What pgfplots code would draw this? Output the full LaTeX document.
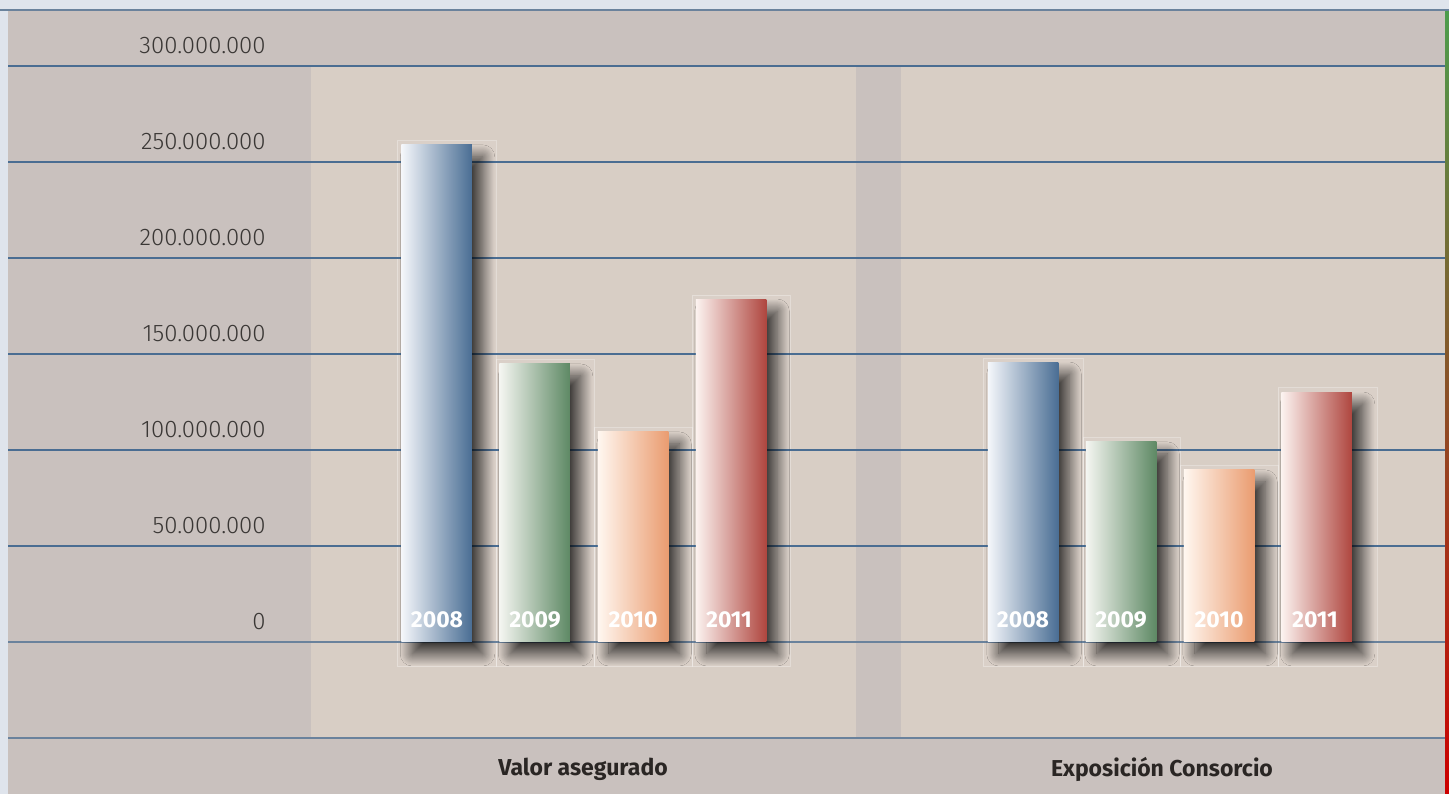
\documentclass[border=0pt]{standalone}
\usepackage{pgfplots}
\pgfplotsset{compat=1.18}
\usetikzlibrary{shadows.blur}
\usepackage{fontspec}
\setmainfont{Fira Sans}
\newfontfamily\lightfont{Fira Sans Light}
\definecolor{outerbg}{HTML}{C9C1BE}
\definecolor{panelbg}{HTML}{D8CEC5}
\definecolor{stripbg}{HTML}{DFE4EC}
\definecolor{gridc}{HTML}{4A6D92}
\definecolor{gridl}{HTML}{6A829C}
\definecolor{blueD}{HTML}{4A6E94}
\definecolor{blueL}{HTML}{F5F7FB}
\definecolor{greenD}{HTML}{5E8964}
\definecolor{greenL}{HTML}{F5F6F2}
\definecolor{orangeD}{HTML}{EA9C70}
\definecolor{orangeL}{HTML}{FFF7F0}
\definecolor{redD}{HTML}{AF463F}
\definecolor{redL}{HTML}{FCF3F0}
\definecolor{labc}{HTML}{3A3735}
\definecolor{catc}{HTML}{2A2624}
\tikzset{barshadow/.style={blur shadow={shadow xshift=5.5pt, shadow yshift=-6pt, shadow blur radius=6pt, shadow blur steps=24, shadow opacity=75}}}
\pgfplotsset{
  b08/.style={bar shift=0pt, draw=none, left color=blueL, right color=blueD, barshadow},
  b09/.style={bar shift=0pt, draw=none, left color=greenL, right color=greenD, barshadow},
  b10/.style={bar shift=0pt, draw=none, left color=orangeL, right color=orangeD, barshadow},
  b11/.style={bar shift=0pt, draw=none, left color=redL, right color=redD, barshadow},
}
\begin{document}
\begin{tikzpicture}
\begin{axis}[
  scale only axis, width=724.5pt, height=397pt,
  xmin=0, xmax=1449, ymin=-79.1667, ymax=334.375,
  hide axis, clip=true,
  ybar, bar width=70.5,
]
% backgrounds
\fill[stripbg] (axis cs:0,-79.1667) rectangle (axis cs:1449,334.375);
\fill[outerbg] (axis cs:8,-79.1667) rectangle (axis cs:1445,329.17);
\fill[panelbg] (axis cs:311,-50) rectangle (axis cs:856,300);
\fill[panelbg] (axis cs:901,-50) rectangle (axis cs:1445,300);
\shade[top color=green!45!black!70!white, bottom color=red!80!black] (axis cs:1445,-79.1667) rectangle (axis cs:1449,329.17);
\draw[gridl, line width=0.8pt] (axis cs:0,329.17) -- (axis cs:1449,329.17);
% faint frames around bars
\draw[white, opacity=0.3, line width=0.5pt, fill=white, fill opacity=0.06] (axis cs:397,-13) rectangle (axis cs:496,261.0);
\draw[white, opacity=0.3, line width=0.5pt, fill=white, fill opacity=0.06] (axis cs:496,-13) rectangle (axis cs:594,146.9);
\draw[white, opacity=0.3, line width=0.5pt, fill=white, fill opacity=0.06] (axis cs:594,-13) rectangle (axis cs:692,111.5);
\draw[white, opacity=0.3, line width=0.5pt, fill=white, fill opacity=0.06] (axis cs:692,-13) rectangle (axis cs:790,180.7);
\draw[white, opacity=0.3, line width=0.5pt, fill=white, fill opacity=0.06] (axis cs:983,-13) rectangle (axis cs:1083,147.9);
\draw[white, opacity=0.3, line width=0.5pt, fill=white, fill opacity=0.06] (axis cs:1083,-13) rectangle (axis cs:1180,106.3);
\draw[white, opacity=0.3, line width=0.5pt, fill=white, fill opacity=0.06] (axis cs:1180,-13) rectangle (axis cs:1278,91.7);
\draw[white, opacity=0.3, line width=0.5pt, fill=white, fill opacity=0.06] (axis cs:1278,-13) rectangle (axis cs:1377,132.3);
% grid lines
\draw[gridc, line width=1pt] (axis cs:8,300) -- (axis cs:1445,300);
\draw[gridc, line width=1pt] (axis cs:8,250) -- (axis cs:1445,250);
\draw[gridc, line width=1pt] (axis cs:8,200) -- (axis cs:1445,200);
\draw[gridc, line width=1pt] (axis cs:8,150) -- (axis cs:1445,150);
\draw[gridc, line width=1pt] (axis cs:8,100) -- (axis cs:1445,100);
\draw[gridc, line width=1pt] (axis cs:8,50) -- (axis cs:1445,50);
\draw[gridl, line width=0.8pt] (axis cs:8,0) -- (axis cs:1445,0);
\draw[gridl, line width=0.8pt] (axis cs:8,-50) -- (axis cs:1445,-50);
% bars: Valor asegurado
\addplot[b08] coordinates {(436.5,258.9)};
\addplot[b09] coordinates {(534.5,144.8)};
\addplot[b10] coordinates {(633,109.4)};
\addplot[b11] coordinates {(731,178.6)};
% bars: Exposicion Consorcio
\addplot[b08] coordinates {(1023,145.8)};
\addplot[b09] coordinates {(1121,104.2)};
\addplot[b10] coordinates {(1219,89.6)};
\addplot[b11] coordinates {(1316.5,130.2)};
% tick labels
\node[anchor=east, inner sep=0pt, text=labc, font=\lightfont\fontsize{12}{14}\selectfont, yshift=10pt] at (axis cs:266,300) {300.000.000};
\node[anchor=east, inner sep=0pt, text=labc, font=\lightfont\fontsize{12}{14}\selectfont, yshift=10pt] at (axis cs:266,250) {250.000.000};
\node[anchor=east, inner sep=0pt, text=labc, font=\lightfont\fontsize{12}{14}\selectfont, yshift=10pt] at (axis cs:266,200) {200.000.000};
\node[anchor=east, inner sep=0pt, text=labc, font=\lightfont\fontsize{12}{14}\selectfont, yshift=10pt] at (axis cs:266,150) {150.000.000};
\node[anchor=east, inner sep=0pt, text=labc, font=\lightfont\fontsize{12}{14}\selectfont, yshift=10pt] at (axis cs:266,100) {100.000.000};
\node[anchor=east, inner sep=0pt, text=labc, font=\lightfont\fontsize{12}{14}\selectfont, yshift=10pt] at (axis cs:266,50) {50.000.000};
\node[anchor=east, inner sep=0pt, text=labc, font=\lightfont\fontsize{12}{14}\selectfont, yshift=10pt] at (axis cs:266,0) {0};
% year labels
\node[text=white, font=\bfseries\fontsize{11.5}{13}\selectfont, yshift=11pt] at (axis cs:437,0) {2008};
\node[text=white, font=\bfseries\fontsize{11.5}{13}\selectfont, yshift=11pt] at (axis cs:535,0) {2009};
\node[text=white, font=\bfseries\fontsize{11.5}{13}\selectfont, yshift=11pt] at (axis cs:633,0) {2010};
\node[text=white, font=\bfseries\fontsize{11.5}{13}\selectfont, yshift=11pt] at (axis cs:729,0) {2011};
\node[text=white, font=\bfseries\fontsize{11.5}{13}\selectfont, yshift=11pt] at (axis cs:1023,0) {2008};
\node[text=white, font=\bfseries\fontsize{11.5}{13}\selectfont, yshift=11pt] at (axis cs:1121,0) {2009};
\node[text=white, font=\bfseries\fontsize{11.5}{13}\selectfont, yshift=11pt] at (axis cs:1219,0) {2010};
\node[text=white, font=\bfseries\fontsize{11.5}{13}\selectfont, yshift=11pt] at (axis cs:1315,0) {2011};
% category labels
\node[text=catc, font=\bfseries\fontsize{11.5}{13}\selectfont] at (axis cs:583,-66.5) {Valor asegurado};
\node[text=catc, font=\bfseries\fontsize{11.5}{13}\selectfont] at (axis cs:1162,-66.5) {Exposición Consorcio};
\end{axis}
\pgfresetboundingbox
\useasboundingbox (current axis.south west) rectangle (current axis.north east);
\end{tikzpicture}
\end{document}
